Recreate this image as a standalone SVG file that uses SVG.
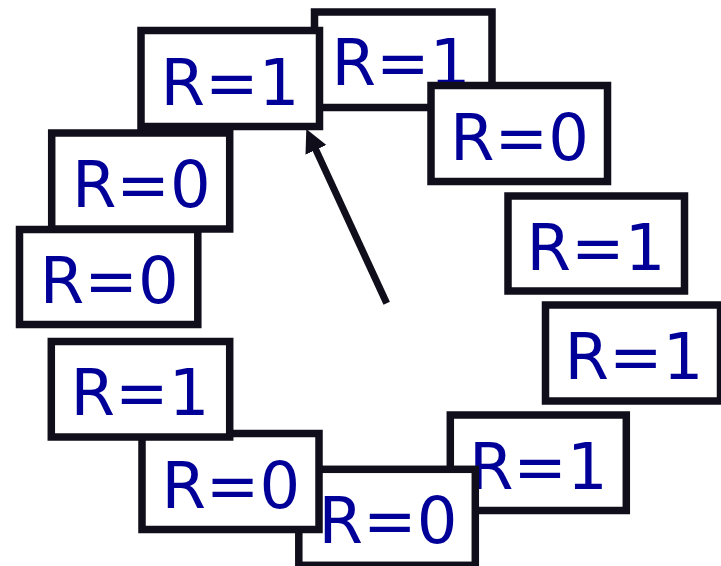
<svg xmlns="http://www.w3.org/2000/svg" width="721" height="566" viewBox="0 0 721 566">
<style>
.box rect{fill:#ffffff;stroke:#100e1a;stroke-width:7.5}
.box text{fill:#000099;font-family:"DejaVu Sans","Liberation Sans",sans-serif;font-size:64px;text-anchor:middle}
.conn{stroke:#100e1a;stroke-width:7;fill:none}
</style>
<defs>
<marker id="ah" markerUnits="userSpaceOnUse" markerWidth="24" markerHeight="24" viewBox="0 0 24 24" refX="2" refY="11.5" orient="auto">
<path d="M0,0 L23,11.5 L0,23 z" fill="#100e1a"/>
</marker>
</defs>
<g id="nA" class="box"><rect x="314.5" y="12" width="177.5" height="95.5"/><text x="401" y="85">R=1</text></g>
<g id="nC" class="box"><rect x="431" y="85.5" width="176.5" height="96"/><text x="519.5" y="160">R=0</text></g>
<g id="nD" class="box"><rect x="508" y="196" width="176.5" height="95"/><text x="596" y="270">R=1</text></g>
<g id="nE" class="box"><rect x="545.5" y="305" width="175" height="96"/><text x="634" y="378.5">R=1</text></g>
<g id="nK" class="box"><rect x="450.3" y="415" width="176" height="95.5"/><text x="538.3" y="489.3">R=1</text></g>
<g id="nJ" class="box"><rect x="298.8" y="469.3" width="176.5" height="96"/><text x="388" y="543">R=0</text></g>
<g id="nI" class="box"><rect x="142" y="433.5" width="177" height="96"/><text x="230.8" y="508.3">R=0</text></g>
<g id="nH" class="box"><rect x="51.3" y="341.5" width="178.4" height="95.5"/><text x="140" y="415">R=1</text></g>
<g id="nG" class="box"><rect x="19.5" y="229.5" width="178.3" height="95"/><text x="109.2" y="303.3">R=0</text></g>
<g id="nF" class="box"><rect x="51.7" y="133" width="178" height="96"/><text x="141.3" y="207.3">R=0</text></g>
<g id="nB" class="box"><rect x="141" y="30.5" width="178.5" height="96"/><text x="230" y="105">R=1</text></g>
<g id="connectors">
<line class="conn" x1="386.7" y1="303.3" x2="315.1" y2="148.1" marker-end="url(#ah)"/>
</g>
</svg>
